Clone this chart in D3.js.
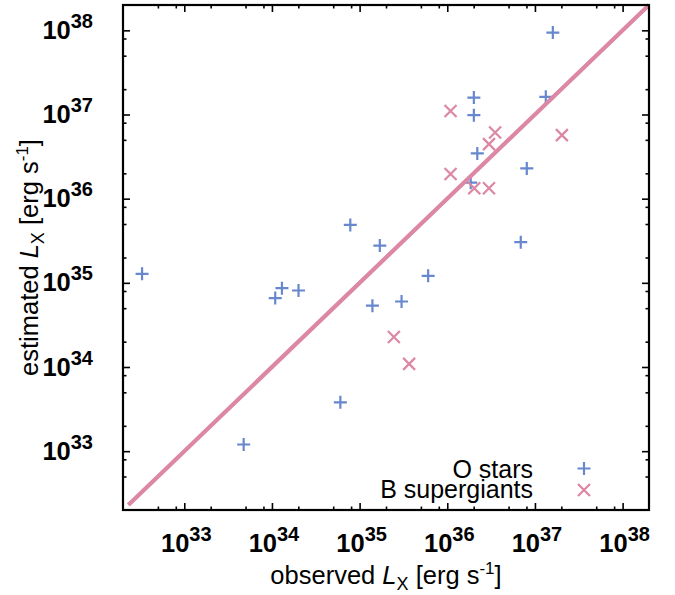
<!DOCTYPE html>
<html>
<head>
<meta charset="utf-8">
<script src="https://cdn.jsdelivr.net/npm/d3@7"></script>
<style>
  html, body { margin: 0; padding: 0; background: #fff; }
  svg { display: block; }
  text { font-family: "Liberation Sans", Arial, Helvetica, sans-serif; fill: #000; }
</style>
</head>
<body>
<script>
// ---- data ----
const oStarsObserved  = [3.3e32, 4.76e33, 1.09e34, 1.30e34, 2.01e34, 6.03e34, 1.40e35, 3.01e35, 7.83e34, 1.70e35, 6.05e35, 6.89e36, 8.07e36, 2.20e36, 2.01e36, 2.01e36, 1.33e37, 1.60e37, 1.85e36];
const oStarsEstimated = [1.28e35, 1.20e33, 6.59e34, 8.65e34, 8.11e34, 3.81e33, 5.35e34, 6.00e34, 4.88e35, 2.77e35, 1.21e35, 3.04e35, 2.29e36, 3.45e36, 9.82e36, 1.59e37, 1.62e37, 9.40e37, 1.55e36];
const bsgObserved     = [2.46e35, 3.67e35, 1.09e36, 1.09e36, 2.03e36, 2.99e36, 2.99e36, 3.51e36, 2.03e37];
const bsgEstimated    = [2.27e34, 1.09e34, 1.10e37, 1.96e36, 1.33e36, 1.33e36, 4.45e36, 6.12e36, 5.69e36];
const equalityLine    = [2.3e32, 2e38];
const axisDomain      = [2e32, 2e38];
const majorTickExps   = [33, 34, 35, 36, 37, 38];
const minorTickMults  = [2, 5, 8];
const seriesNames     = ["O stars", "B supergiants"];

const W = 675, H = 595;
const L = 123, R = 649, T = 5, B = 510;
const blue = "#6788cd", pink = "#dc87a4";

const svg = d3.select("body").append("svg").attr("width", W).attr("height", H);

const x = d3.scaleLog().domain(axisDomain).range([L, R]);
const y = d3.scaleLog().domain(axisDomain).range([B, T]);

const majors = majorTickExps.map(e => Math.pow(10, e));
const minors = [];
for (let e = 32; e <= 38; e++) minorTickMults.forEach(m => {
  const v = m * Math.pow(10, e);
  if (v > axisDomain[0] * 1.001 && v < axisDomain[1] * 0.999) minors.push(v);
});

function drawAxis(gen, transform, vals, size) {
  const g = svg.append("g").attr("transform", transform)
    .call(gen.tickValues(vals).tickSizeInner(-size).tickSizeOuter(0).tickFormat(""));
  g.select(".domain").remove();
  g.selectAll(".tick line").attr("stroke", "#000").attr("stroke-width", 1.6);
}
[[majors, 7], [minors, 3.5]].forEach(([vals, s]) => {
  drawAxis(d3.axisBottom(x), `translate(0,${B})`, vals, s);
  drawAxis(d3.axisTop(x), `translate(0,${T})`, vals, s);
  drawAxis(d3.axisLeft(y), `translate(${L},0)`, vals, s);
  drawAxis(d3.axisRight(y), `translate(${R},0)`, vals, s);
});

// tick labels
const xl = svg.append("g").selectAll("text").data(majorTickExps).join("text")
  .attr("x", d => x(Math.pow(10, d)) + 2).attr("y", 552)
  .attr("text-anchor", "middle").attr("font-weight", "bold");
xl.append("tspan").attr("font-size", 25.5).text("10");
xl.append("tspan").attr("font-size", 20).attr("dy", -11).text(d => d);

const yl = svg.append("g").selectAll("text").data(majorTickExps).join("text")
  .attr("x", 93).attr("y", d => y(Math.pow(10, d)) + 8.5)
  .attr("text-anchor", "end").attr("font-weight", "bold");
yl.append("tspan").attr("font-size", 25.5).text("10");
yl.append("tspan").attr("font-size", 20).attr("dy", -11).text(d => d);

// axis titles
function axisTitle(t, label) {
  t.append("tspan").text(label + " ");
  t.append("tspan").attr("font-style", "italic").text("L");
  t.append("tspan").attr("font-size", 18).attr("dy", 6).text("X");
  t.append("tspan").attr("dy", -6).text(" [erg s");
  t.append("tspan").attr("font-size", 17).attr("dy", -10).text("-1");
  t.append("tspan").attr("dy", 10).text("]");
}
const xt = svg.append("text").attr("x", (L + R) / 2).attr("y", 584)
  .attr("text-anchor", "middle").attr("font-size", 25.5);
axisTitle(xt, "observed");

const yt = svg.append("text")
  .attr("transform", `translate(38,${(T + B) / 2}) rotate(-90)`)
  .attr("text-anchor", "middle").attr("font-size", 25.5);
axisTitle(yt, "estimated");

// markers
const plusPath = "M-6.5,0H6.5M0,-6.5V6.5";
const crossPath = "M-6,-6L6,6M-6,6L6,-6";

const oData = oStarsObserved.map((v, i) => [v, oStarsEstimated[i]]);
const bData = bsgObserved.map((v, i) => [v, bsgEstimated[i]]);

svg.append("g").selectAll("path").data(oData).join("path")
  .attr("d", plusPath).attr("transform", d => `translate(${x(d[0])},${y(d[1])})`)
  .attr("stroke", blue).attr("stroke-width", 2.2).attr("fill", "none");

svg.append("g").selectAll("path").data(bData).join("path")
  .attr("d", crossPath).attr("transform", d => `translate(${x(d[0])},${y(d[1])})`)
  .attr("stroke", pink).attr("stroke-width", 2.2).attr("fill", "none");

// y = x line
svg.append("path")
  .attr("d", d3.line().x(d => x(d)).y(d => y(d))(equalityLine))
  .attr("stroke", pink).attr("stroke-width", 4.2).attr("fill", "none");

// legend
const legY = [477.5, 498];
svg.append("g").selectAll("text").data(seriesNames).join("text")
  .attr("x", 533).attr("y", (d, i) => legY[i]).attr("text-anchor", "end")
  .attr("font-size", 25).text(d => d);
svg.append("path").attr("d", plusPath).attr("transform", "translate(584,468.5)")
  .attr("stroke", blue).attr("stroke-width", 2.2).attr("fill", "none");
svg.append("path").attr("d", crossPath).attr("transform", "translate(584,490)")
  .attr("stroke", pink).attr("stroke-width", 2.2).attr("fill", "none");

// frame
svg.append("rect").attr("x", L).attr("y", T).attr("width", R - L).attr("height", B - T)
  .attr("fill", "none").attr("stroke", "#000").attr("stroke-width", 2.2);
</script>
</body>
</html>
